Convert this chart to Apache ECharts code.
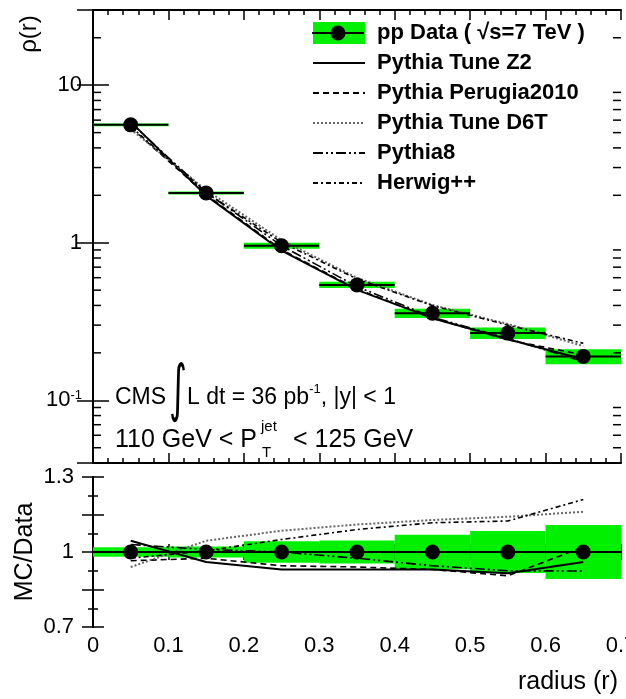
<!DOCTYPE html>
<html>
<head>
<meta charset="utf-8">
<script src="https://cdn.jsdelivr.net/npm/echarts@6/dist/echarts.min.js"></script>
<style>
  html, body { margin: 0; padding: 0; background: #fff; }
  #chart { width: 626px; height: 699px; }
</style>
</head>
<body>
<div id="chart"></div>
<script>
const FONT = '"Liberation Sans", Arial, Helvetica, sans-serif';
const GREEN = '#00f000';

// bin centres in jet radius r (bins are 0.1 wide)
const radius = [0.05, 0.15, 0.25, 0.35, 0.45, 0.55, 0.65];
const binHalf = 0.05;
const rMax = 0.7;

// measured differential jet shape rho(r) and its relative uncertainty
const rhoData = [5.6, 2.07, 0.957, 0.54, 0.357, 0.267, 0.19];
const rhoRelErr = [0.019, 0.022, 0.043, 0.046, 0.069, 0.084, 0.108];

// MC predictions of rho(r)
const rhoZ2 = [5.85, 1.99, 0.89, 0.502, 0.332, 0.244, 0.182];
const rhoPerugia = [5.40, 2.02, 0.904, 0.508, 0.332, 0.242, 0.194];
const rhoD6T = [5.26, 2.16, 1.038, 0.599, 0.403, 0.305, 0.221];
const rhoPythia8 = [5.77, 2.09, 0.957, 0.527, 0.337, 0.247, 0.176];
const rhoHerwig = [5.46, 2.08, 1.005, 0.589, 0.399, 0.300, 0.230];

// MC / Data ratios
const ratioData = [1, 1, 1, 1, 1, 1, 1];
const ratioZ2 = [1.045, 0.96, 0.93, 0.93, 0.93, 0.915, 0.96];
const ratioPerugia = [0.965, 0.975, 0.945, 0.94, 0.93, 0.905, 1.02];
const ratioD6T = [0.94, 1.045, 1.085, 1.11, 1.128, 1.141, 1.161];
const ratioPythia8 = [1.03, 1.01, 1.0, 0.975, 0.945, 0.925, 0.924];
const ratioHerwig = [0.975, 1.005, 1.05, 1.09, 1.117, 1.124, 1.21];

// small ticks of the log axis (2..9 per decade)
const logMinorTicks = [0.05, 0.06, 0.07, 0.08, 0.09, 0.2, 0.3, 0.4, 0.5, 0.6, 0.7, 0.8, 0.9,
  2, 3, 4, 5, 6, 7, 8, 9, 20];

const DATA_NAME = 'pp Data ( √s=7 TeV )';
const MARKER_NAME = 'pp Data marker';

const mcModels = [
  { name: 'Pythia Tune Z2', rho: rhoZ2, ratio: ratioZ2, color: '#000', width: 2, type: 'solid' },
  { name: 'Pythia Perugia2010', rho: rhoPerugia, ratio: ratioPerugia, color: '#000', width: 1.6, type: [6, 4] },
  { name: 'Pythia Tune D6T', rho: rhoD6T, ratio: ratioD6T, color: '#666', width: 2, type: [2, 2] },
  { name: 'Pythia8', rho: rhoPythia8, ratio: ratioPythia8, color: '#000', width: 1.6, type: [10, 3, 2, 3, 2, 3] },
  { name: 'Herwig++', rho: rhoHerwig, ratio: ratioHerwig, color: '#000', width: 1.6, type: [5, 3, 2, 3] }
];

const chart = echarts.init(document.getElementById('chart'));

const tickStyle = { color: '#000', width: 1.5 };
const axisLineStyle = { show: true, lineStyle: { color: '#000', width: 2 } };

function xAxisFor(grid, pos, showLabels, major, minor) {
  return {
    type: 'value', gridIndex: grid, position: pos, min: 0, max: rMax, interval: 0.1,
    axisLine: axisLineStyle,
    axisTick: { inside: true, length: major, lineStyle: tickStyle },
    minorTick: { show: true, splitNumber: 5, length: minor, lineStyle: tickStyle },
    splitLine: { show: false },
    axisLabel: showLabels ? {
      show: true, margin: 8, color: '#000', fontFamily: FONT, fontSize: 22,
      formatter: v => String(Math.round(v * 10) / 10)
    } : { show: false }
  };
}

function logAxis(pos, showLabels) {
  return {
    type: 'log', logBase: 10, gridIndex: 0, position: pos, min: 0.04, max: 30,
    axisLine: axisLineStyle,
    axisTick: { inside: true, length: 16, lineStyle: tickStyle },
    splitLine: { show: false },
    axisLabel: showLabels ? {
      show: true, margin: 11, color: '#000', fontFamily: FONT, fontSize: 22,
      formatter: v => {
        if (Math.abs(v - 10) < 1e-6) return '10';
        if (Math.abs(v - 1) < 1e-6) return '1';
        if (Math.abs(v - 0.1) < 1e-6) return '{b|10}{s|-1}';
        return '';
      },
      rich: {
        b: { fontFamily: FONT, fontSize: 22, color: '#000' },
        s: { fontFamily: FONT, fontSize: 13, color: '#000', verticalAlign: 'top', lineHeight: 13 }
      }
    } : { show: false }
  };
}

// ratio axis is drawn around 1: values are plotted as (ratio - 1)
function ratioAxis(pos, showLabels) {
  return {
    type: 'value', gridIndex: 1, position: pos, min: -0.3, max: 0.3, interval: 0.15,
    axisLine: axisLineStyle,
    axisTick: { inside: true, length: 11, lineStyle: tickStyle },
    minorTick: { show: true, splitNumber: 2, length: 5, lineStyle: tickStyle },
    splitLine: { show: false },
    name: showLabels ? 'MC/Data' : '',
    nameLocation: 'middle', nameGap: 55, nameMoveOverlap: false,
    nameTextStyle: { fontFamily: FONT, fontSize: 25, color: '#000' },
    axisLabel: showLabels ? {
      show: true, margin: 19, color: '#000', fontFamily: FONT, fontSize: 22,
      formatter: v => {
        if (Math.abs(v) < 1e-6) return '1';
        if (Math.abs(v - 0.3) < 1e-6) return '1.3';
        if (Math.abs(v + 0.3) < 1e-6) return '0.7';
        return '';
      }
    } : { show: false }
  };
}

const series = [];

// green uncertainty boxes, top panel
series.push({
  name: DATA_NAME, type: 'custom', xAxisIndex: 0, yAxisIndex: 0, z: 1,
  itemStyle: { color: GREEN },
  encode: { x: 0, y: 1 },
  data: radius.map((r, i) => [r, rhoData[i], rhoRelErr[i]]),
  renderItem: (params, api) => {
    const c = api.value(0), v = api.value(1), e = api.value(2);
    const p1 = api.coord([c - binHalf, v * (1 + e)]);
    const p2 = api.coord([c + binHalf, v * (1 - e)]);
    return { type: 'rect', shape: { x: p1[0], y: p1[1], width: p2[0] - p1[0], height: p2[1] - p1[1] }, style: { fill: GREEN } };
  }
});

// MC curves, top panel
mcModels.forEach(m => {
  series.push({
    name: m.name, type: 'line', xAxisIndex: 0, yAxisIndex: 0, z: 3,
    symbol: 'none', lineStyle: { color: m.color, width: m.width, type: m.type },
    itemStyle: { color: m.color },
    data: radius.map((r, i) => [r, m.rho[i]])
  });
});

// horizontal bin-width bars of the data
series.push({
  name: 'data bins', type: 'custom', xAxisIndex: 0, yAxisIndex: 0, z: 4,
  encode: { x: 0, y: 1 },
  data: radius.map((r, i) => [r, rhoData[i]]),
  renderItem: (params, api) => {
    const c = api.value(0), v = api.value(1);
    const a = api.coord([c - binHalf, v]);
    const b = api.coord([c + binHalf, v]);
    return { type: 'line', shape: { x1: a[0], y1: a[1], x2: b[0], y2: b[1] }, style: { stroke: '#000', lineWidth: 2 } };
  }
});

// data markers, top panel
series.push({
  name: MARKER_NAME, type: 'scatter', xAxisIndex: 0, yAxisIndex: 0, z: 5,
  symbol: 'circle', symbolSize: 15, itemStyle: { color: '#000', opacity: 1 },
  data: radius.map((r, i) => [r, rhoData[i]])
});

// minor ticks of the log axis (left and right)
series.push({
  name: 'log ticks', type: 'custom', xAxisIndex: 0, yAxisIndex: 0, z: 6, silent: true,
  encode: { x: 0, y: 1 },
  data: logMinorTicks.map(t => [0, t]),
  renderItem: (params, api) => {
    const v = api.value(1);
    const l = api.coord([0, v]);
    const r = api.coord([rMax, v]);
    return {
      type: 'group', children: [
        { type: 'line', shape: { x1: l[0], y1: l[1], x2: l[0] + 8, y2: l[1] }, style: { stroke: '#000', lineWidth: 1.5 } },
        { type: 'line', shape: { x1: r[0] - 8, y1: r[1], x2: r[0], y2: r[1] }, style: { stroke: '#000', lineWidth: 1.5 } }
      ]
    };
  }
});

// green band, ratio panel
series.push({
  name: 'ratio band', type: 'custom', xAxisIndex: 2, yAxisIndex: 2, z: 1,
  encode: { x: 0, y: 1 },
  data: radius.map((r, i) => [r, ratioData[i] - 1, rhoRelErr[i]]),
  renderItem: (params, api) => {
    const c = api.value(0), v = api.value(1), e = api.value(2);
    const p1 = api.coord([c - binHalf, v + e]);
    const p2 = api.coord([c + binHalf, v - e]);
    return { type: 'rect', shape: { x: p1[0], y: p1[1], width: p2[0] - p1[0], height: p2[1] - p1[1] }, style: { fill: GREEN } };
  }
});

// MC / Data curves
mcModels.forEach(m => {
  series.push({
    name: m.name, type: 'line', xAxisIndex: 2, yAxisIndex: 2, z: 3,
    symbol: 'none', lineStyle: { color: m.color, width: m.width, type: m.type },
    itemStyle: { color: m.color },
    data: radius.map((r, i) => [r, m.ratio[i] - 1])
  });
});

// data points on the ratio, with the line at 1
series.push({
  name: MARKER_NAME, type: 'scatter', xAxisIndex: 2, yAxisIndex: 2, z: 5,
  symbol: 'circle', symbolSize: 15, itemStyle: { color: '#000', opacity: 1 },
  data: radius.map((r, i) => [r, ratioData[i] - 1]),
  markLine: {
    silent: true, symbol: ['none', 'none'], label: { show: false },
    lineStyle: { color: '#000', width: 2, type: 'solid' },
    data: [{ yAxis: 0 }]
  }
});

const option = {
  animation: false,
  backgroundColor: '#fff',
  grid: [
    { left: 93, top: 10, width: 528, height: 453, outerBoundsMode: 'none', containLabel: false },
    { left: 93, top: 477, width: 528, height: 150, outerBoundsMode: 'none', containLabel: false }
  ],
  xAxis: [
    xAxisFor(0, 'bottom', false, 10, 5),
    xAxisFor(0, 'top', false, 10, 5),
    xAxisFor(1, 'bottom', true, 8, 4),
    xAxisFor(1, 'top', false, 8, 4)
  ],
  yAxis: [
    logAxis('left', true),
    logAxis('right', false),
    ratioAxis('left', true),
    ratioAxis('right', false)
  ],
  legend: [
    {
      orient: 'vertical', left: 312, top: 22, padding: 0,
      itemWidth: 52, itemHeight: 22, itemGap: 8, selectedMode: false,
      textStyle: { fontFamily: FONT, fontSize: 22, fontWeight: 'bold', color: '#000', lineHeight: 22, padding: [0, 0, 0, 7] },
      data: [{ name: DATA_NAME, icon: 'rect', itemStyle: { color: GREEN } }]
        .concat(mcModels.map(m => ({ name: m.name, itemStyle: { opacity: 0 } })))
    },
    {
      orient: 'vertical', left: 312, top: 25.5, padding: 0,
      itemWidth: 52, itemHeight: 15, selectedMode: false,
      formatter: () => '',
      data: [{
        name: MARKER_NAME,
        icon: 'path://M0,6.5L18.6,6.5L18.6,8.5L0,8.5Z M33.4,6.5L52,6.5L52,8.5L33.4,8.5Z M18.5,7.5A7.5,7.5,0,1,1,33.5,7.5A7.5,7.5,0,1,1,18.5,7.5Z',
        itemStyle: { color: '#000' }
      }]
    }
  ],
  graphic: [
    { type: 'text', x: 29, y: 34, rotation: Math.PI / 2,
      style: { text: 'ρ(r)', fontFamily: FONT, fontSize: 24, fill: '#000', align: 'center', verticalAlign: 'middle' } },
    { type: 'text', x: 618, y: 682,
      style: { text: 'radius (r)', fontFamily: FONT, fontSize: 25, fill: '#000', align: 'right', verticalAlign: 'middle' } },
    { type: 'text', x: 115, y: 398,
      style: { text: 'CMS', fontFamily: FONT, fontSize: 23, fill: '#000', verticalAlign: 'middle' } },
    { type: 'text', x: 169, y: 393, scaleX: 0.55,
      style: { text: '∫', fontFamily: '"DejaVu Sans"', fontSize: 62, fill: '#000', verticalAlign: 'middle' } },
    { type: 'text', x: 187, y: 398,
      style: {
        text: '{a|L dt = 36 pb}{s|-1}{a|, |y| < 1}', fill: '#000', verticalAlign: 'middle',
        rich: {
          a: { fontFamily: FONT, fontSize: 23, lineHeight: 30, fill: '#000' },
          s: { fontFamily: FONT, fontSize: 13, lineHeight: 14, verticalAlign: 'top', fill: '#000' }
        }
      } },
    { type: 'text', x: 115, y: 440,
      style: { text: '110 GeV < P', fontFamily: FONT, fontSize: 25, fill: '#000', verticalAlign: 'middle' } },
    { type: 'text', x: 261, y: 427,
      style: { text: 'jet', fontFamily: FONT, fontSize: 15, fill: '#000', verticalAlign: 'middle' } },
    { type: 'text', x: 262, y: 453,
      style: { text: 'T', fontFamily: FONT, fontSize: 15, fill: '#000', verticalAlign: 'middle' } },
    { type: 'text', x: 293, y: 440,
      style: { text: '< 125 GeV', fontFamily: FONT, fontSize: 25, fill: '#000', verticalAlign: 'middle' } }
  ],
  series: series
};

chart.setOption(option);
</script>
</body>
</html>
